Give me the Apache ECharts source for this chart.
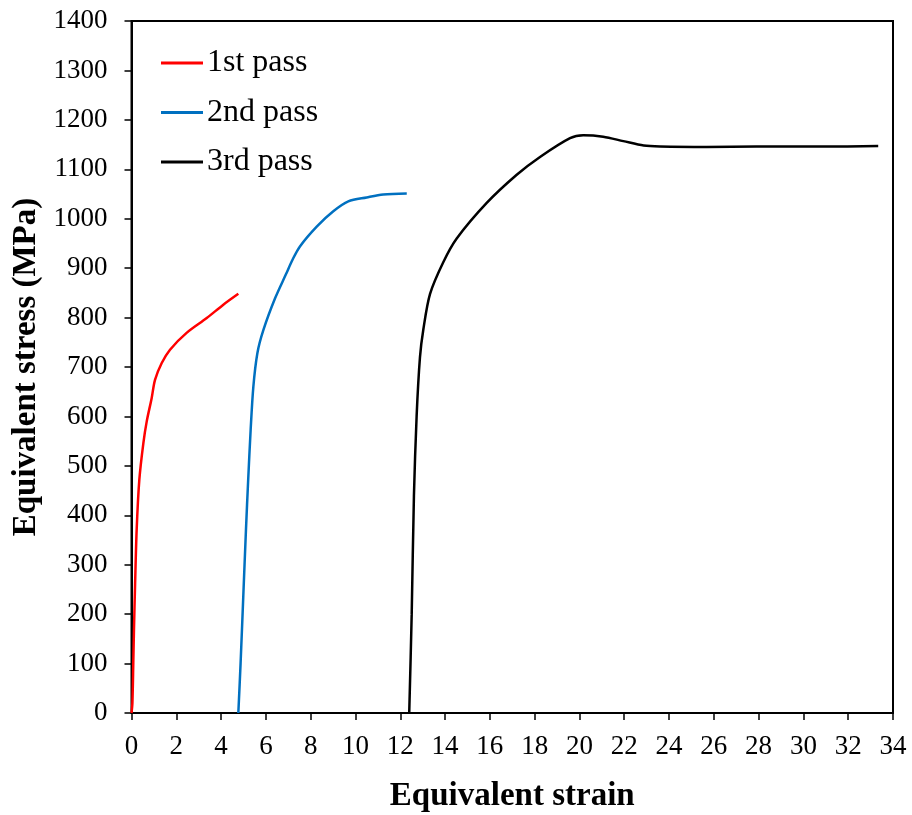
<!DOCTYPE html>
<html>
<head>
<meta charset="utf-8">
<script src="https://cdn.jsdelivr.net/npm/echarts@6/dist/echarts.min.js"></script>
<style>html,body{margin:0;padding:0;background:#fff}#c{width:912px;height:815px}</style>
</head>
<body>
<div id="c"></div>
<script>
const seriesNames = ['1st pass', '2nd pass', '3rd pass'];

const pass1Strain = [0.0, 0.04, 0.08, 0.11, 0.16, 0.23, 0.35, 0.53, 0.68, 0.9, 1.05, 1.35, 1.72, 2.46, 3.36, 4.1, 4.77];
const pass1Stress = [0, 20, 101, 168, 260, 370, 472, 546, 590, 637, 674, 708, 735, 769, 799, 826, 848];

const pass2Strain = [4.77, 4.87, 4.99, 5.11, 5.21, 5.32, 5.44, 5.62, 5.89, 6.41, 6.9, 7.2, 7.52, 8.27, 9.01, 9.68, 10.5, 11.24, 12.29];
const pass2Stress = [0, 100, 235, 370, 472, 573, 660, 728, 775, 839, 888, 918, 944, 984, 1015, 1035, 1043, 1049, 1051];

const pass3Strain = [12.4, 12.51, 12.61, 12.73, 12.88, 13.03, 13.33, 13.92, 14.52, 15.86, 17.2, 18.24, 19.58, 20.17, 21.06, 21.96, 22.87, 23.6, 25.68, 27.9, 30.9, 33.34];
const pass3Stress = [0, 199, 439, 600, 720, 776, 848, 912, 960, 1032, 1089, 1125, 1163, 1169, 1166, 1157, 1148, 1146, 1145, 1146, 1146, 1147];

const xTicks = { min: 0, max: 34, interval: 2 };
const yTicks = { min: 0, max: 1400, interval: 100 };

const zip = (a, b) => a.map((v, i) => [v, b[i]]);
const font = 'Liberation Serif, Times New Roman, serif';

const chart = echarts.init(document.getElementById('c'));
chart.setOption({
  animation: false,
  backgroundColor: '#fff',
  grid: { left: 131.5, right: 19, top: 21, bottom: 102, outerBoundsMode: 'none', containLabel: false, show: true, borderColor: '#000', borderWidth: 2, backgroundColor: 'transparent' },
  legend: {
    orient: 'vertical', left: 156, top: 42,
    itemWidth: 42, itemHeight: 3, itemGap: 17.5, icon: 'rect',
    textStyle: { fontFamily: font, fontSize: 32, color: '#000', lineHeight: 32, padding: [0,0,0,-1] },
    data: seriesNames
  },
  xAxis: {
    type: 'value', min: xTicks.min, max: xTicks.max, interval: xTicks.interval,
    name: 'Equivalent strain', nameLocation: 'middle', nameGap: 67,
    nameTextStyle: { fontFamily: font, fontSize: 33, fontWeight: 'bold', color: '#000' },
    axisLine: { show: true, lineStyle: { color: '#000', width: 2 } },
    axisTick: { show: true, inside: false, length: 7, lineStyle: { color: '#000', width: 1.5 } },
    axisLabel: { fontFamily: font, fontSize: 27, color: '#000', margin: 20, formatter: v => String(v) },
    splitLine: { show: false }
  },
  yAxis: {
    type: 'value', min: yTicks.min, max: yTicks.max, interval: yTicks.interval,
    name: 'Equivalent stress (MPa)', nameLocation: 'middle', nameGap: 87,
    nameTextStyle: { fontFamily: font, fontSize: 33, fontWeight: 'bold', color: '#000' },
    axisLine: { show: true, lineStyle: { color: '#000', width: 2 } },
    axisTick: { show: true, inside: false, length: 7, lineStyle: { color: '#000', width: 1.5 } },
    axisLabel: { fontFamily: font, fontSize: 27, color: '#000', margin: 24, formatter: v => String(v) },
    splitLine: { show: false }
  },
  series: [
    { name: seriesNames[0], type: 'line', data: zip(pass1Strain, pass1Stress), showSymbol: false, symbol: 'none', smooth: 0.3, lineStyle: { color: '#FF0000', width: 2.5 }, itemStyle: { color: '#FF0000' } },
    { name: seriesNames[1], type: 'line', data: zip(pass2Strain, pass2Stress), showSymbol: false, symbol: 'none', smooth: 0.3, lineStyle: { color: '#0070C0', width: 2.5 }, itemStyle: { color: '#0070C0' } },
    { name: seriesNames[2], type: 'line', data: zip(pass3Strain, pass3Stress), showSymbol: false, symbol: 'none', smooth: 0.3, lineStyle: { color: '#000000', width: 2.5 }, itemStyle: { color: '#000000' } }
  ]
});
</script>
</body>
</html>
